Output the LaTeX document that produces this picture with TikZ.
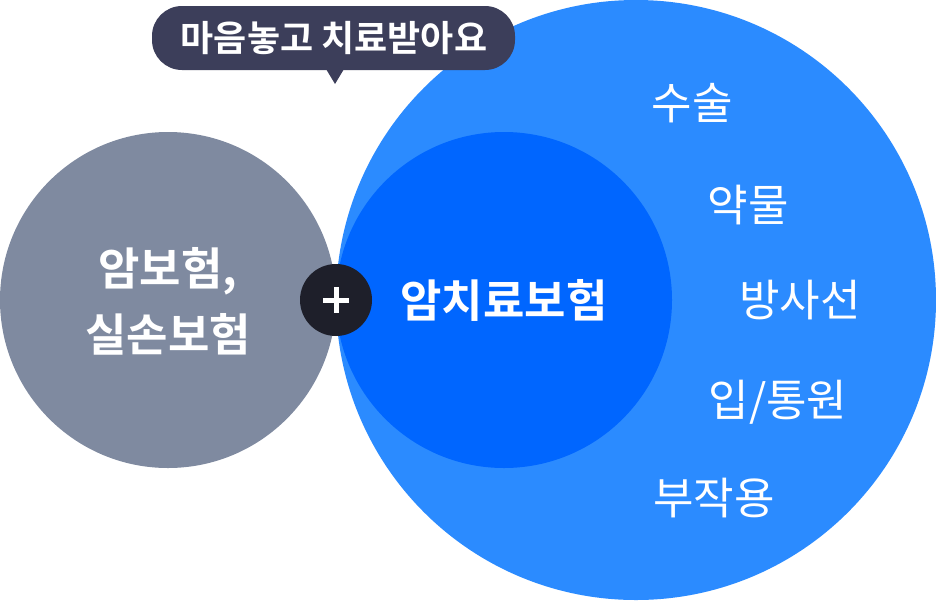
\documentclass[tikz,border=0pt]{standalone}
\usepackage{fontspec}
\newfontfamily\kr{Noto Sans CJK KR}[BoldFont={Noto Sans CJK KR Bold}]
\definecolor{bigc}{HTML}{2B8BFF}
\definecolor{inc}{HTML}{0066FF}
\definecolor{grc}{HTML}{7F8AA0}
\definecolor{plc}{HTML}{1E1F2A}
\definecolor{bub}{HTML}{3C3E5A}
\begin{document}
\begin{tikzpicture}[x=1pt,y=-1pt,
  item/.style={text=white,font=\kr\fontsize{44}{50}\selectfont},
  big/.style={text=white,font=\kr\bfseries\fontsize{45}{66}\selectfont,align=center}]
\useasboundingbox (0,0) rectangle (936,600);
\fill[bigc] (636,300) circle (300);
\fill[inc] (504,300) circle (168);
\fill[grc] (168,300) circle (168);
\node[circle,fill=plc,minimum size=72pt,inner sep=0pt] (plus) at (336,300) {};
\draw[white,line width=5pt] (323,300) -- (349,300) (336,287) -- (336,313);
\fill[bub,rounded corners=30pt] (152,6) rectangle (515,70);
\fill[bub] (326,69) -- (344,69) -- (335,84) -- cycle;
\node[text=white,font=\kr\bfseries\fontsize{36}{40}\selectfont] (bt) at (334,38) {마음놓고 치료받아요};
\node[big] (l) at (168,301) {암보험,\\실손보험};
\node[big] (c) at (504,300) {암치료보험};
\node[item] (a) at (692,103) {수술};
\node[item] (b) at (748,205) {약물};
\node[item] (d) at (800,300) {방사선};
\node[item] (e) at (778,402) {입/통원};
\node[item] (f) at (714,498) {부작용};
\end{tikzpicture}
\end{document}
